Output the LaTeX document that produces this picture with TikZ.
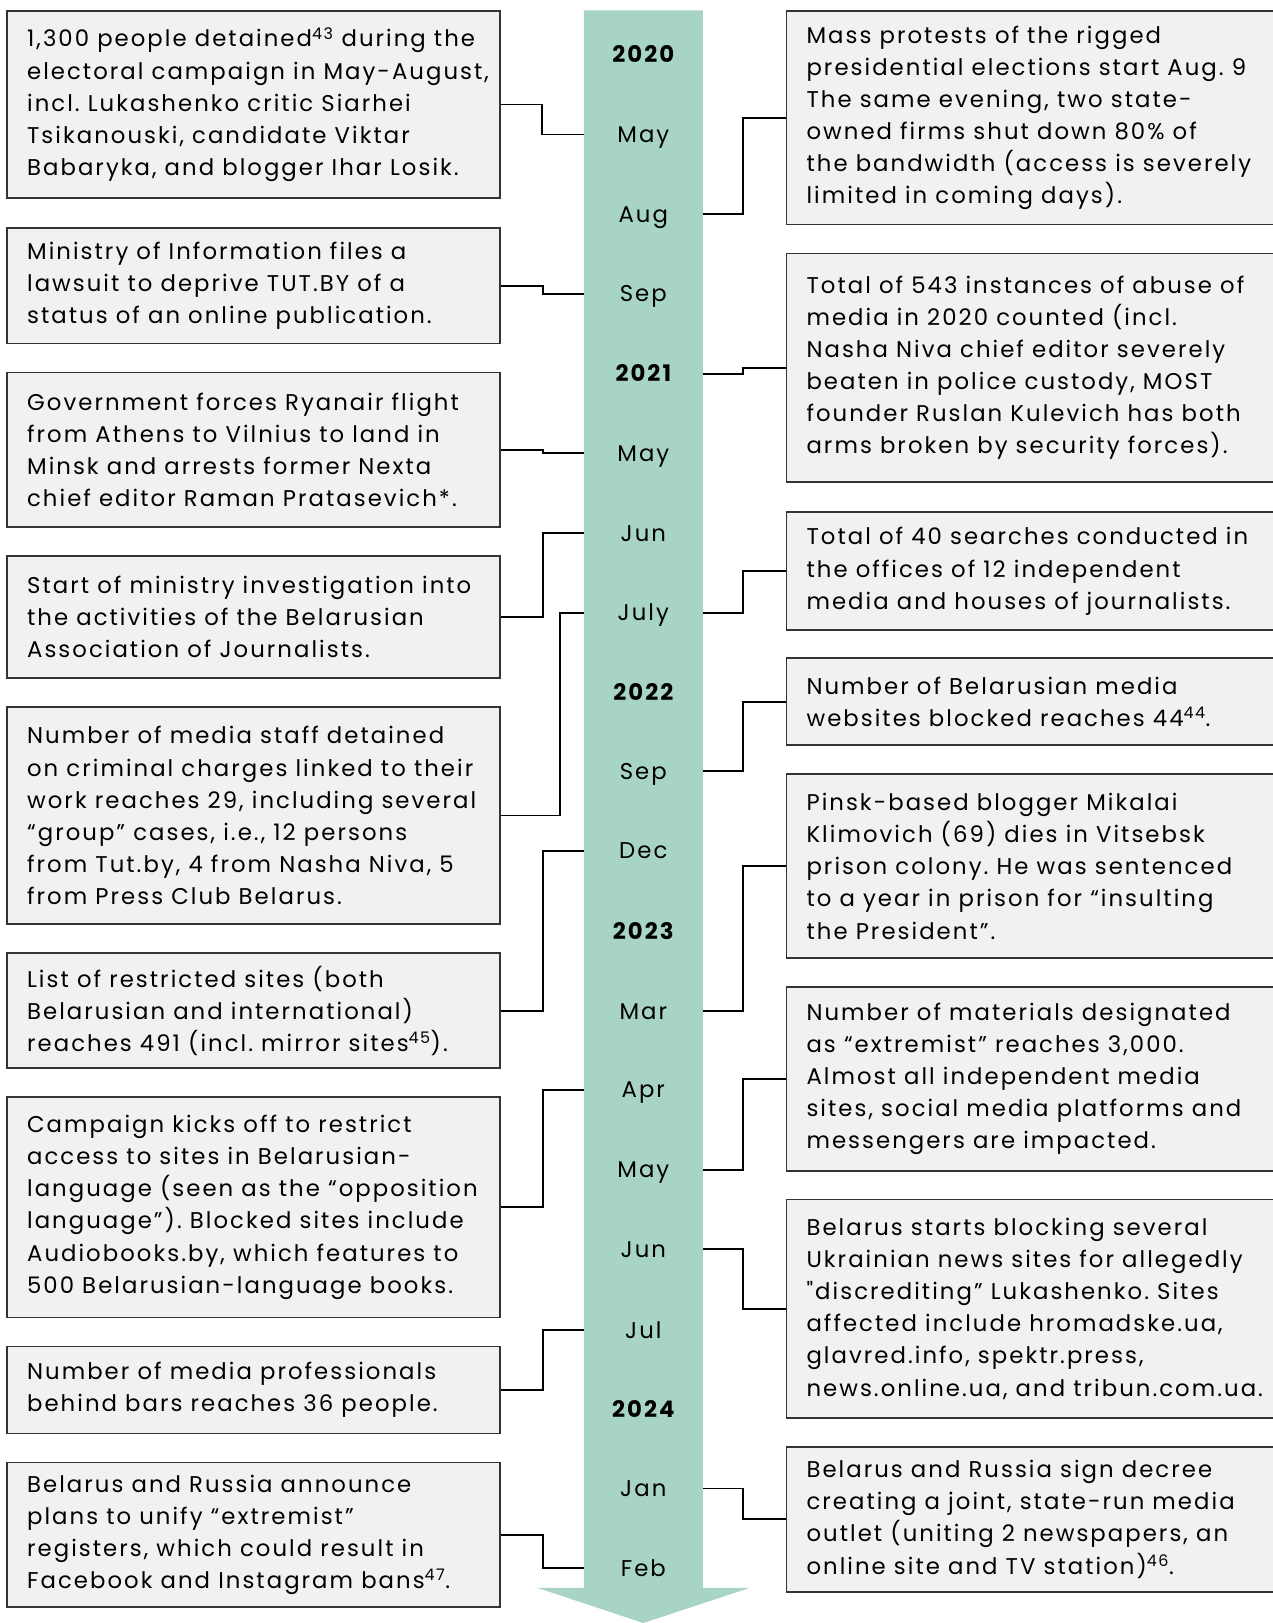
\documentclass[tikz,border=0pt]{standalone}
\usepackage{fontspec}
\setmainfont{Poppins}[Ligatures=TeXOff, LetterSpace=9]
\frenchspacing
\definecolor{barc}{HTML}{A8D4C6}
\definecolor{boxfill}{HTML}{F1F1F1}
\definecolor{boxline}{HTML}{333333}
\newcommand{\txtfont}{\fontsize{22}{31}\selectfont}
\tikzset{
  evframe/.style={draw=boxline, fill=boxfill, line width=1.8pt, anchor=north west, inner sep=0pt},
  evtext/.style={anchor=west, inner sep=0pt, align=left, font=\txtfont},
  month/.style={minimum width=115pt, inner sep=0pt, text height=15.5pt, text depth=0pt, font=\txtfont},
  yearlbl/.style={month, font=\txtfont\bfseries},
  conn/.style={draw=black, line width=1.8pt}
}
% #1 name, #2 x, #3 y, #4 width, #5 height, #6 text
\newcommand{\eventbox}[6]{%
  \node[evframe, minimum width=#4pt, minimum height=#5pt] (#1) at (#2,#3) {};
  \node[evtext] (#1t) at ([xshift=20pt]#1.west) {#6};
}
\begin{document}
\begin{tikzpicture}[x=1pt,y=-1pt]
\useasboundingbox (0,0) rectangle (1229,1568);
% timeline bar with arrow
\fill[barc] (564,10) -- (679,10) -- (679,1534) -- (724.5,1534) -- (621.5,1568) -- (519,1534) -- (564,1534) -- cycle;
% bar labels
\node[yearlbl] (y2020) at (621.5,53) {2020};
\node[month] (m20may) at (621.5,130) {May};
\node[month] (m20aug) at (621.5,207) {Aug};
\node[month] (m20sep) at (621.5,284) {Sep};
\node[yearlbl] (y2021) at (621.5,361) {2021};
\node[month] (m21may) at (621.5,438) {May};
\node[month] (m21jun) at (621.5,515) {Jun};
\node[month] (m21jul) at (621.5,592) {July};
\node[yearlbl] (y2022) at (621.5,669) {2022};
\node[month] (m22sep) at (621.5,745) {Sep};
\node[month] (m22dec) at (621.5,822) {Dec};
\node[yearlbl] (y2023) at (621.5,900) {2023};
\node[month] (m23mar) at (621.5,977) {Mar};
\node[month] (m23apr) at (621.5,1053) {Apr};
\node[month] (m23may) at (621.5,1130) {May};
\node[month] (m23jun) at (621.5,1207) {Jun};
\node[month] (m23jul) at (621.5,1285) {Jul};
\node[yearlbl] (y2024) at (621.5,1362) {2024};
\node[month] (m24jan) at (621.5,1438) {Jan};
\node[month] (m24feb) at (621.5,1515) {Feb};
% left boxes
\eventbox{L1}{6}{10}{476}{180}{1,300 people detained\textsuperscript{43} during the\\electoral campaign in May-August,\\incl. Lukashenko critic Siarhei\\Tsikanouski, candidate Viktar\\Babaryka, and blogger Ihar Losik.}
\eventbox{L2}{6}{219}{476}{112}{Ministry of Information files a\\lawsuit to deprive TUT.BY of a\\status of an online publication.}
\eventbox{L3}{6}{359}{476}{149}{Government forces Ryanair flight\\from Athens to Vilnius to land in\\Minsk and arrests former Nexta\\chief editor Raman Pratasevich*.}
\eventbox{L4}{6}{536}{476}{118}{Start of ministry investigation into\\the activities of the Belarusian\\Association of Journalists.}
\eventbox{L5}{6}{682}{476}{210}{Number of media staff detained\\on criminal charges linked to their\\work reaches 29, including several\\“group” cases, i.e., 12 persons\\from Tut.by, 4 from Nasha Niva, 5\\from Press Club Belarus.}
\eventbox{L6}{6}{920}{476}{111}{List of restricted sites (both\\Belarusian and international)\\reaches 491 (incl. mirror sites\textsuperscript{45}).}
\eventbox{L7}{6}{1059}{476}{213}{Campaign kicks off to restrict\\access to sites in Belarusian-\\language (seen as the “opposition\\language”). Blocked sites include\\Audiobooks.by, which features to\\500 Belarusian-language books.}
\eventbox{L8}{6}{1300}{476}{84}{Number of media professionals\\behind bars reaches 36 people.}
\eventbox{L9}{6}{1412}{476}{140}{Belarus and Russia announce\\plans to unify “extremist”\\registers, which could result in\\Facebook and Instagram bans\textsuperscript{47}.}
% right boxes
\eventbox{R1}{759}{10}{490}{206}{Mass protests of the rigged\\presidential elections start Aug. 9\\The same evening, two state-\\owned firms shut down 80\% of\\the bandwidth (access is severely\\limited in coming days).}
\eventbox{R2}{759}{244}{490}{221}{Total of 543 instances of abuse of\\media in 2020 counted (incl.\\Nasha Niva chief editor severely\\beaten in police custody, MOST\\founder Ruslan Kulevich has both\\arms broken by security forces).}
\eventbox{R3}{759}{494}{490}{114}{Total of 40 searches conducted in\\the offices of 12 independent\\media and houses of journalists.}
\eventbox{R4}{759}{635}{490}{84}{Number of Belarusian media\\websites blocked reaches 44\textsuperscript{44}.}
\eventbox{R5}{759}{747}{490}{178}{Pinsk-based blogger Mikalai\\Klimovich (69) dies in Vitsebsk\\prison colony. He was sentenced\\to a year in prison for “insulting\\the President”.}
\eventbox{R6}{759}{953}{490}{177}{Number of materials designated\\as “extremist” reaches 3,000.\\Almost all independent media\\sites, social media platforms and\\messengers are impacted.}
\eventbox{R7}{759}{1158}{490}{211}{Belarus starts blocking several\\Ukrainian news sites for allegedly\\"discrediting” Lukashenko. Sites\\affected include hromadske.ua,\\glavred.info, spektr.press,\\news.online.ua, and tribun.com.ua.}
\eventbox{R8}{759}{1397}{490}{140}{Belarus and Russia sign decree\\creating a joint, state-run media\\outlet (uniting 2 newspapers, an\\online site and TV station)\textsuperscript{46}.}
% left connectors
\draw[conn] (L1.east) -- ++(40,0) |- (m20may.west);
\draw[conn] (L2.east) -- ++(41,0) |- (m20sep.west);
\draw[conn] (L3.east) -- ++(41,0) |- (m21may.west);
\draw[conn] (L4.east) -- ++(41,0) |- (m21jun.west);
\draw[conn] (L5.east) -- ++(57,0) |- (m21jul.west);
\draw[conn] (L6.east) -- ++(41,0) |- (m22dec.west);
\draw[conn] (L7.east) -- ++(41,0) |- (m23apr.west);
\draw[conn] (L8.east) -- ++(41,0) |- (m23jul.west);
\draw[conn] (L9.east) -- ++(41,0) |- (m24feb.west);
% right connectors
\draw[conn] (m20aug.east) -- ++(39,0) |- (R1.west);
\draw[conn] (y2021.east) -- ++(39,0) |- (R2.west);
\draw[conn] (m21jul.east) -- ++(39,0) |- (R3.west);
\draw[conn] (m22sep.east) -- ++(39,0) |- (R4.west);
\draw[conn] (m23mar.east) -- ++(39,0) |- (R5.west);
\draw[conn] (m23may.east) -- ++(39,0) |- (R6.west);
\draw[conn] (m23jun.east) -- ++(39,0) |- (R7.west);
\draw[conn] (m24jan.east) -- ++(39,0) |- (R8.west);
\end{tikzpicture}
\end{document}
